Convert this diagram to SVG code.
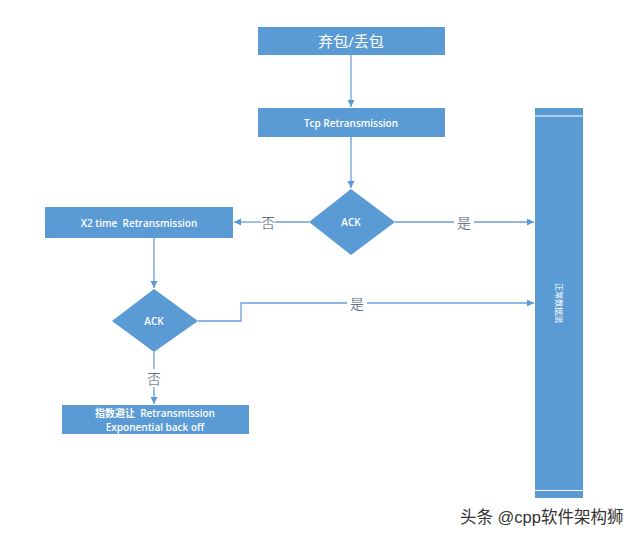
<svg xmlns="http://www.w3.org/2000/svg" width="640" height="540" viewBox="0 0 640 540">
<style>
.box{fill:#5B9BD5}
.t{fill:#fff;font-family:"Open Sans","Noto Sans CJK SC",sans-serif;font-size:10px;font-weight:600;text-anchor:middle;dominant-baseline:central}
.big{font-size:15px;font-weight:400}
.c{stroke:#6A9FD6;stroke-width:1.3;fill:none}
.lbl{fill:#44546A;font-family:"Noto Sans CJK SC",sans-serif;font-size:14px;font-weight:300;text-anchor:middle;dominant-baseline:central}
.wm{fill:#333;font-family:"Liberation Sans","Noto Sans CJK SC",sans-serif;font-size:16.5px;dominant-baseline:central}
</style>
<defs>
<marker id="ah" markerWidth="8" markerHeight="8" refX="7" refY="4" orient="auto" markerUnits="userSpaceOnUse">
<path d="M0,0.5 L7,4 L0,7.5 Z" fill="#5B9BD5"/>
</marker>
</defs>
<rect width="640" height="540" fill="#fff"/>
<g id="connectors">
<line class="c" x1="351" y1="55" x2="351" y2="107" marker-end="url(#ah)"/>
<line class="c" x1="351" y1="137" x2="351" y2="188" marker-end="url(#ah)"/>
<line class="c" x1="309" y1="222" x2="275" y2="222"/>
<line class="c" x1="261" y1="222" x2="234" y2="222" marker-end="url(#ah)"/>
<line class="c" x1="395" y1="222" x2="454" y2="222"/>
<line class="c" x1="474" y1="222" x2="534" y2="222" marker-end="url(#ah)"/>
<line class="c" x1="154" y1="238" x2="154" y2="288" marker-end="url(#ah)"/>
<polyline class="c" points="198,321 241,321 241,303 347,303"/>
<line class="c" x1="367" y1="303" x2="534" y2="303" marker-end="url(#ah)"/>
<line class="c" x1="154" y1="352" x2="154" y2="369"/>
<line class="c" x1="154" y1="387" x2="154" y2="404" marker-end="url(#ah)"/>
<text class="lbl" x="268" y="222">否</text>
<text class="lbl" x="464" y="222">是</text>
<text class="lbl" x="357" y="303">是</text>
<text class="lbl" x="154" y="378">否</text>
</g>
<g id="n1"><rect class="box" x="258" y="27" width="187" height="28"/><text class="t big" x="351" y="41">弃包/丢包</text></g>
<g id="n2"><rect class="box" x="258" y="108" width="187" height="29"/><text class="t" x="351" y="122.5">Tcp Retransmission</text></g>
<g id="d1"><polygon class="box" points="351,189 395,222 351,255 309,222"/><text class="t" x="351" y="222">ACK</text></g>
<g id="n3"><rect class="box" x="45" y="207" width="188" height="31"/><text class="t" x="139" y="222.5" xml:space="preserve">X2 time  Retransmission</text></g>
<g id="d2"><polygon class="box" points="154,289 198,321 154,352 112,321"/><text class="t" x="154" y="321">ACK</text></g>
<g id="n4"><rect class="box" x="62" y="405" width="187" height="29"/><text class="t" x="155" y="412.5" xml:space="preserve">指数避让  Retransmission</text><text class="t" x="155" y="427">Exponential back off</text></g>
<g id="bar"><rect class="box" x="535" y="108" width="48" height="390"/><line x1="535" y1="116" x2="583" y2="116" stroke="#fff" stroke-width="1.2"/><line x1="535" y1="490.5" x2="583" y2="490.5" stroke="#fff" stroke-width="1.2"/><text class="t" x="559" y="303" style="font-size:8px;font-weight:400" transform="rotate(90 559 303)">正常数据流</text></g>
<text class="wm" x="460" y="517">头条 @cpp软件架构狮</text>
</svg>
